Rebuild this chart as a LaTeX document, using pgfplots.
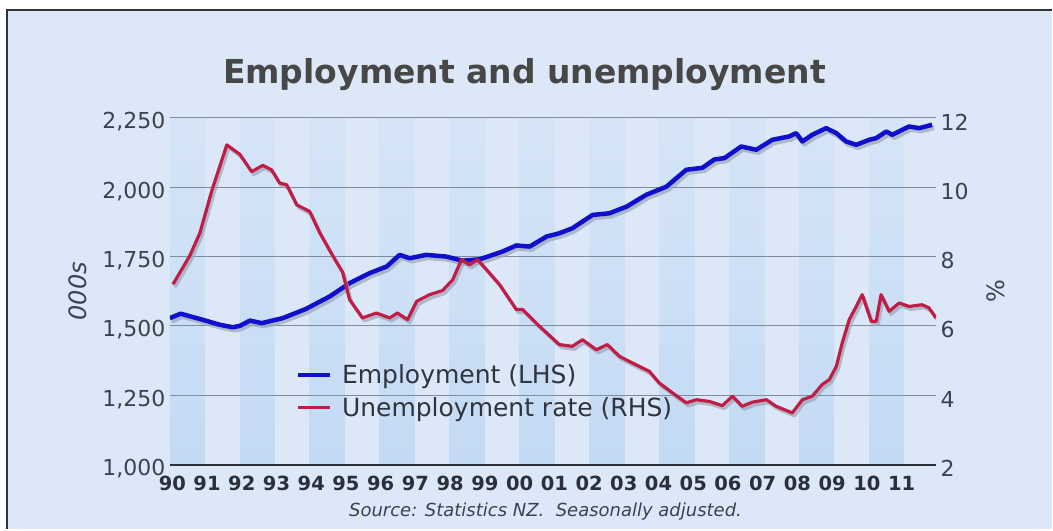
\documentclass[border=0pt]{standalone}
\usepackage{pgfplots}
\pgfplotsset{compat=1.18}
\usepackage{pgfplotstable}
\usepackage{fontspec}
\setmainfont{DejaVu Sans}

\definecolor{bg}{HTML}{DCE8F8}
\definecolor{stripe}{HTML}{C3DAF4}
\definecolor{gridc}{HTML}{7F8C9C}
\definecolor{axisc}{HTML}{2A2F3A}
\definecolor{frame}{HTML}{303438}
\definecolor{empc}{HTML}{1010CC}
\definecolor{unc}{HTML}{C01C46}
\definecolor{shadowc}{HTML}{9AA4B6}
\definecolor{tickc}{HTML}{3C4150}
\definecolor{legc}{HTML}{30343C}
\definecolor{titlec}{HTML}{474747}

% employment, 000s (LHS)
\pgfplotstableread{
x y
1990.00 1528
1990.31 1544
1990.94 1522
1991.43 1504
1991.80 1495
1992.00 1500
1992.29 1519
1992.63 1510
1993.23 1528
1993.89 1561
1994.57 1606
1995.14 1654
1995.71 1690
1996.20 1714
1996.57 1756
1996.86 1744
1997.33 1756
1997.90 1750
1998.37 1735
1998.86 1740
1999.51 1768
1999.91 1790
2000.29 1786
2000.77 1822
2001.14 1834
2001.51 1852
2002.09 1900
2002.57 1906
2003.06 1930
2003.63 1973
2004.20 2002
2004.77 2063
2005.23 2070
2005.57 2100
2005.86 2105
2006.34 2147
2006.77 2135
2007.23 2171
2007.71 2183
2007.91 2195
2008.09 2165
2008.37 2189
2008.77 2213
2009.06 2195
2009.34 2165
2009.63 2153
2010.00 2171
2010.20 2177
2010.49 2201
2010.66 2189
2011.14 2219
2011.43 2213
2011.80 2225
}\emp

% unemployment rate, % (RHS)
\pgfplotstableread{
x y
1990.09 7.20
1990.57 8.02
1990.86 8.68
1991.20 9.90
1991.63 11.22
1992.00 10.95
1992.34 10.45
1992.66 10.63
1992.91 10.50
1993.14 10.12
1993.34 10.07
1993.63 9.49
1994.00 9.30
1994.29 8.68
1994.66 8.02
1994.94 7.55
1995.14 6.76
1995.51 6.23
1995.91 6.37
1996.29 6.23
1996.51 6.37
1996.80 6.18
1997.06 6.71
1997.43 6.90
1997.80 7.02
1998.09 7.33
1998.34 7.91
1998.57 7.76
1998.80 7.91
1999.06 7.62
1999.43 7.19
1999.91 6.47
2000.09 6.47
2000.57 5.99
2001.14 5.46
2001.51 5.41
2001.80 5.60
2002.20 5.31
2002.51 5.46
2002.86 5.12
2003.23 4.93
2003.71 4.69
2004.00 4.35
2004.37 4.07
2004.77 3.78
2005.06 3.87
2005.43 3.82
2005.80 3.70
2006.09 3.97
2006.37 3.68
2006.66 3.80
2007.06 3.87
2007.34 3.68
2007.80 3.49
2008.09 3.87
2008.37 3.97
2008.66 4.31
2008.86 4.45
2009.06 4.83
2009.23 5.51
2009.43 6.18
2009.63 6.56
2009.80 6.90
2010.06 6.13
2010.20 6.13
2010.34 6.90
2010.57 6.42
2010.86 6.66
2011.14 6.56
2011.51 6.61
2011.71 6.52
2011.91 6.23
}\unemp

\pgfplotsset{
  base/.style={scale only axis, width=767bp, height=347bp,
    at={(170bp,65bp)}, anchor=south west,
    xmin=1990, xmax=2011.914,
    /pgf/number format/assume math mode=true},
}

\begin{document}
\begin{tikzpicture}
\fill[white] (0,0) rectangle (1053bp,530bp);
\fill[bg] (7bp,0) rectangle (1053bp,520bp);
\draw[frame, line width=2bp] (7bp,0) -- (7bp,520bp) -- (1053bp,520bp);
\useasboundingbox (0,0) rectangle (1053bp,530bp);

% year bands
\begin{axis}[base, hide axis, ymin=1000, ymax=2250]
  \shade[bottom color=stripe, top color=stripe!25!bg] (axis cs:1990,1000) rectangle (axis cs:1991,2250);
  \shade[bottom color=stripe, top color=stripe!25!bg] (axis cs:1992,1000) rectangle (axis cs:1993,2250);
  \shade[bottom color=stripe, top color=stripe!25!bg] (axis cs:1994,1000) rectangle (axis cs:1995,2250);
  \shade[bottom color=stripe, top color=stripe!25!bg] (axis cs:1996,1000) rectangle (axis cs:1997,2250);
  \shade[bottom color=stripe, top color=stripe!25!bg] (axis cs:1998,1000) rectangle (axis cs:1999,2250);
  \shade[bottom color=stripe, top color=stripe!25!bg] (axis cs:2000,1000) rectangle (axis cs:2001,2250);
  \shade[bottom color=stripe, top color=stripe!25!bg] (axis cs:2002,1000) rectangle (axis cs:2003,2250);
  \shade[bottom color=stripe, top color=stripe!25!bg] (axis cs:2004,1000) rectangle (axis cs:2005,2250);
  \shade[bottom color=stripe, top color=stripe!25!bg] (axis cs:2006,1000) rectangle (axis cs:2007,2250);
  \shade[bottom color=stripe, top color=stripe!25!bg] (axis cs:2008,1000) rectangle (axis cs:2009,2250);
  \shade[bottom color=stripe, top color=stripe!25!bg] (axis cs:2010,1000) rectangle (axis cs:2011,2250);
\end{axis}

% left axis: employment
\begin{axis}[base,
  ymin=1000, ymax=2250, ytick={1000,1250,...,2250},
  ymajorgrids, grid style={gridc, line width=0.8bp},
  axis x line*=bottom, axis y line*=left,
  y axis line style={draw=none},
  x axis line style={axisc, line width=2bp, -},
  major tick length=0,
  xtick={1990.071,1991.064,1992.058,1993.051,1994.044,1995.037,1996.030,1997.023,1998.016,1999.010,2000.003,2000.996,2001.989,2002.982,2003.975,2004.969,2005.962,2006.955,2007.948,2008.941,2009.934,2010.928},
  xticklabels={90,91,92,93,94,95,96,97,98,99,00,01,02,03,04,05,06,07,08,09,10,11},
  xticklabel style={font=\fontsize{19.5bp}{20bp}\selectfont\bfseries, text=axisc, yshift=-8bp},
  yticklabel style={font=\fontsize{22bp}{24bp}\selectfont, text=tickc, yshift=-4bp, xshift=-1bp,
    /pgf/number format/1000 sep={,}},
  ylabel={000s},
  ylabel style={font=\fontsize{24bp}{26bp}\selectfont\itshape, text=tickc,
    at={(axis description cs:-0.12,0.5)}, anchor=center},
]
  \addplot[shadowc, opacity=0.7, line width=4.5bp, line join=round, xshift=2bp, yshift=-3bp, forget plot] table[x=x,y=y] {\emp};
  \addplot[empc, line width=4.5bp, line join=round] table[x=x,y=y] {\emp};
\end{axis}

% right axis: unemployment rate
\begin{axis}[base,
  ymin=2, ymax=12, ytick={2,4,...,12},
  axis y line*=right, axis x line=none,
  y axis line style={draw=none},
  major tick length=0,
  yticklabel style={font=\fontsize{22bp}{24bp}\selectfont, text=tickc, yshift=-4bp, xshift=1bp},
  ylabel={\%},
  ylabel style={font=\fontsize{24bp}{26bp}\selectfont, text=tickc,
    at={(axis description cs:1.078,0.5)}, anchor=center},
  legend style={at={(0.160,0.212)}, anchor=west, draw=none, fill=none,
    font=\fontsize{25bp}{27bp}\selectfont, text=legc, row sep=8bp,
    /tikz/every odd column/.append style={column sep=8bp}},
  legend cell align=left,
  legend image code/.code={\draw[#1] (0bp,0bp) -- (32bp,0bp);},
]
  \addlegendimage{empc, line width=4.5bp}
  \addlegendentry{Employment (LHS)}
  \addplot[shadowc, opacity=0.7, line width=3.2bp, line join=round, xshift=2bp, yshift=-3bp, forget plot] table[x=x,y=y] {\unemp};
  \addplot[unc, line width=3.2bp, line join=round] table[x=x,y=y] {\unemp};
  \addlegendentry{Unemployment rate (RHS)}
\end{axis}

\node[font=\fontsize{33bp}{36bp}\selectfont\bfseries, text=titlec] at (525bp,455bp) {Employment and unemployment};
\node[font=\fontsize{18bp}{20bp}\selectfont\itshape, text=tickc] at (546bp,18bp) {Source: Statistics NZ.\ \ Seasonally adjusted.};
\end{tikzpicture}
\end{document}
